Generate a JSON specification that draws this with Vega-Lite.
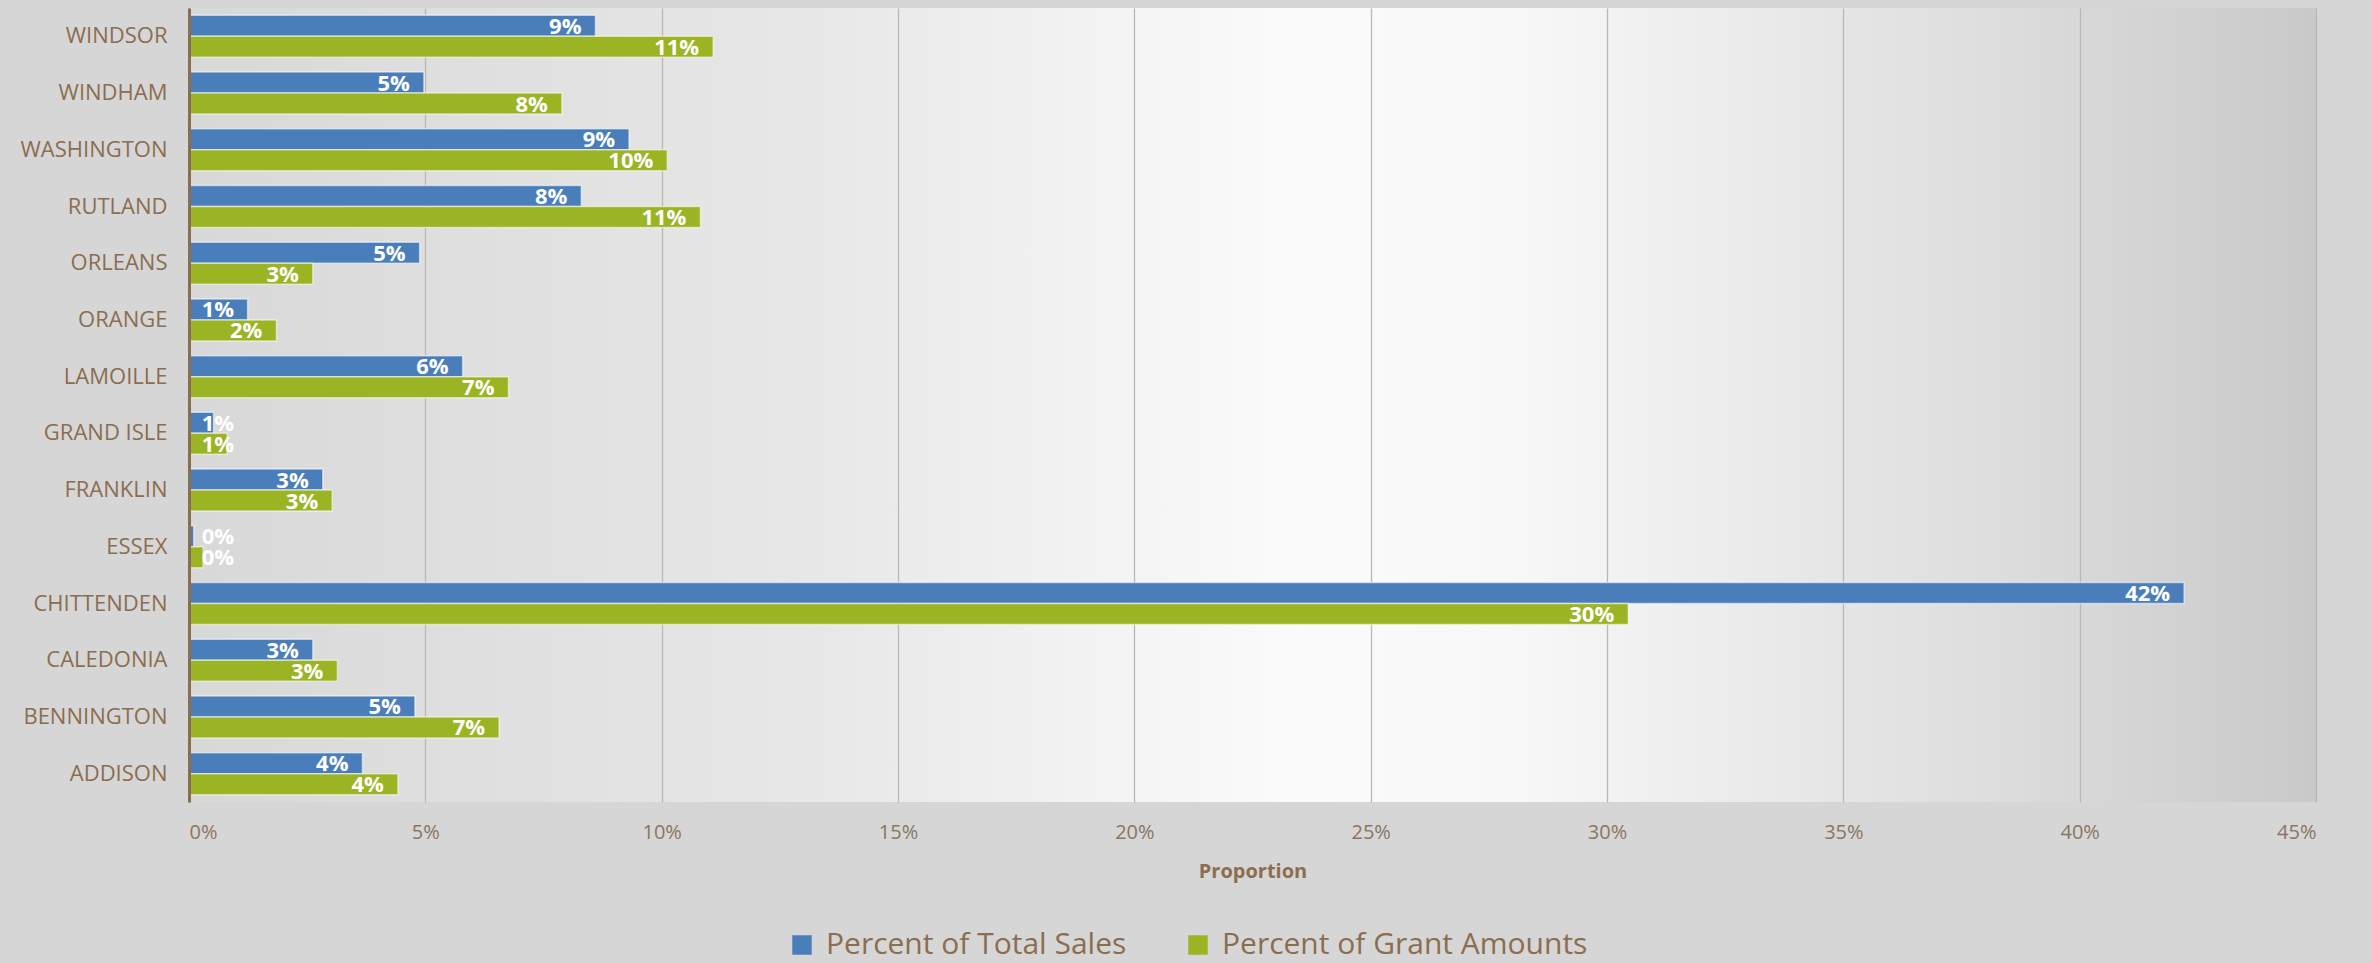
{
  "$schema": "https://vega.github.io/schema/vega-lite/v6.json",
  "width": 2127,
  "height": 794,
  "autosize": {"type": "none"},
  "padding": {"left": 189, "top": 8, "right": 56, "bottom": 161},
  "background": "#d6d6d6",
  "config": {
    "font": "Open Sans",
    "view": {
      "stroke": null,
      "fill": {
        "gradient": "linear", "x1": 0, "y1": 0, "x2": 1, "y2": 0,
        "stops": [
          {"offset": 0, "color": "#d8d8d8"},
          {"offset": 0.3, "color": "#e8e8e8"},
          {"offset": 0.52, "color": "#fbfbfb"},
          {"offset": 0.62, "color": "#f8f8f8"},
          {"offset": 0.85, "color": "#dddddd"},
          {"offset": 1, "color": "#c9c9c9"}
        ]
      }
    }
  },
  "data": {
    "values": [
      {"county": "WINDSOR", "series": "Percent of Total Sales", "value": 0.0860},
      {"county": "WINDSOR", "series": "Percent of Grant Amounts", "value": 0.1109},
      {"county": "WINDHAM", "series": "Percent of Total Sales", "value": 0.0497},
      {"county": "WINDHAM", "series": "Percent of Grant Amounts", "value": 0.0789},
      {"county": "WASHINGTON", "series": "Percent of Total Sales", "value": 0.0931},
      {"county": "WASHINGTON", "series": "Percent of Grant Amounts", "value": 0.1012},
      {"county": "RUTLAND", "series": "Percent of Total Sales", "value": 0.0830},
      {"county": "RUTLAND", "series": "Percent of Grant Amounts", "value": 0.1082},
      {"county": "ORLEANS", "series": "Percent of Total Sales", "value": 0.0488},
      {"county": "ORLEANS", "series": "Percent of Grant Amounts", "value": 0.0262},
      {"county": "ORANGE", "series": "Percent of Total Sales", "value": 0.0124},
      {"county": "ORANGE", "series": "Percent of Grant Amounts", "value": 0.0185},
      {"county": "LAMOILLE", "series": "Percent of Total Sales", "value": 0.0579},
      {"county": "LAMOILLE", "series": "Percent of Grant Amounts", "value": 0.0676},
      {"county": "GRAND ISLE", "series": "Percent of Total Sales", "value": 0.0052},
      {"county": "GRAND ISLE", "series": "Percent of Grant Amounts", "value": 0.0081},
      {"county": "FRANKLIN", "series": "Percent of Total Sales", "value": 0.0283},
      {"county": "FRANKLIN", "series": "Percent of Grant Amounts", "value": 0.0303},
      {"county": "ESSEX", "series": "Percent of Total Sales", "value": 0.0010},
      {"county": "ESSEX", "series": "Percent of Grant Amounts", "value": 0.0030},
      {"county": "CHITTENDEN", "series": "Percent of Total Sales", "value": 0.4221},
      {"county": "CHITTENDEN", "series": "Percent of Grant Amounts", "value": 0.3045},
      {"county": "CALEDONIA", "series": "Percent of Total Sales", "value": 0.0262},
      {"county": "CALEDONIA", "series": "Percent of Grant Amounts", "value": 0.0314},
      {"county": "BENNINGTON", "series": "Percent of Total Sales", "value": 0.0478},
      {"county": "BENNINGTON", "series": "Percent of Grant Amounts", "value": 0.0656},
      {"county": "ADDISON", "series": "Percent of Total Sales", "value": 0.0367},
      {"county": "ADDISON", "series": "Percent of Grant Amounts", "value": 0.0442}
    ]
  },
  "encoding": {
    "y": {
      "field": "county", "type": "nominal", "sort": "descending",
      "scale": {"paddingInner": 0.26, "paddingOuter": 0.13},
      "axis": {
        "title": null, "ticks": false, "grid": false, "zindex": 2,
        "domainColor": "#8b6d4f", "domainWidth": 3,
        "labelColor": "#8b6d4f", "labelFontSize": 22, "labelPadding": 22
      }
    },
    "yOffset": {
      "field": "series", "type": "nominal",
      "sort": ["Percent of Total Sales", "Percent of Grant Amounts"]
    }
  },
  "layer": [
    {
      "mark": {"type": "bar", "stroke": "#ffffff", "strokeOpacity": 0.55, "strokeWidth": 1.5},
      "encoding": {
        "x": {
          "field": "value", "type": "quantitative",
          "scale": {"domain": [0, 0.45]},
          "axis": {
            "title": "Proportion", "titleFontSize": 20, "titleFontWeight": "bold",
            "titleColor": "#8b6d4f", "titlePadding": 19,
            "values": [0, 0.05, 0.1, 0.15, 0.2, 0.25, 0.3, 0.35, 0.4, 0.45],
            "format": ".0%", "grid": true, "gridColor": "#bdb7b1", "gridWidth": 1.3,
            "domain": false, "ticks": false,
            "labelColor": "#8b7560", "labelFontSize": 20, "labelPadding": 20
          }
        },
        "color": {
          "field": "series", "type": "nominal",
          "scale": {
            "domain": ["Percent of Total Sales", "Percent of Grant Amounts"],
            "range": ["#4a7ebb", "#9bb423"]
          },
          "legend": {
            "orient": "none", "direction": "horizontal",
            "legendX": 598, "legendY": 922, "title": null,
            "symbolType": "square", "symbolSize": 380, "symbolStrokeWidth": 0,
            "symbolOpacity": 1, "labelLimit": 0,
            "labelFontSize": 30, "labelColor": "#8b6d4f", "labelOffset": 9,
            "columnPadding": 56
          }
        }
      }
    },
    {
      "transform": [{"calculate": "max(datum.value, 0.0125)", "as": "lx"}],
      "mark": {"type": "text", "align": "right", "baseline": "middle", "dx": -14, "dy": 1,
               "color": "#ffffff", "fontWeight": "bold", "fontSize": 22},
      "encoding": {
        "x": {"field": "lx", "type": "quantitative"},
        "text": {"field": "value", "type": "quantitative", "format": ".0%"}
      }
    }
  ]
}
